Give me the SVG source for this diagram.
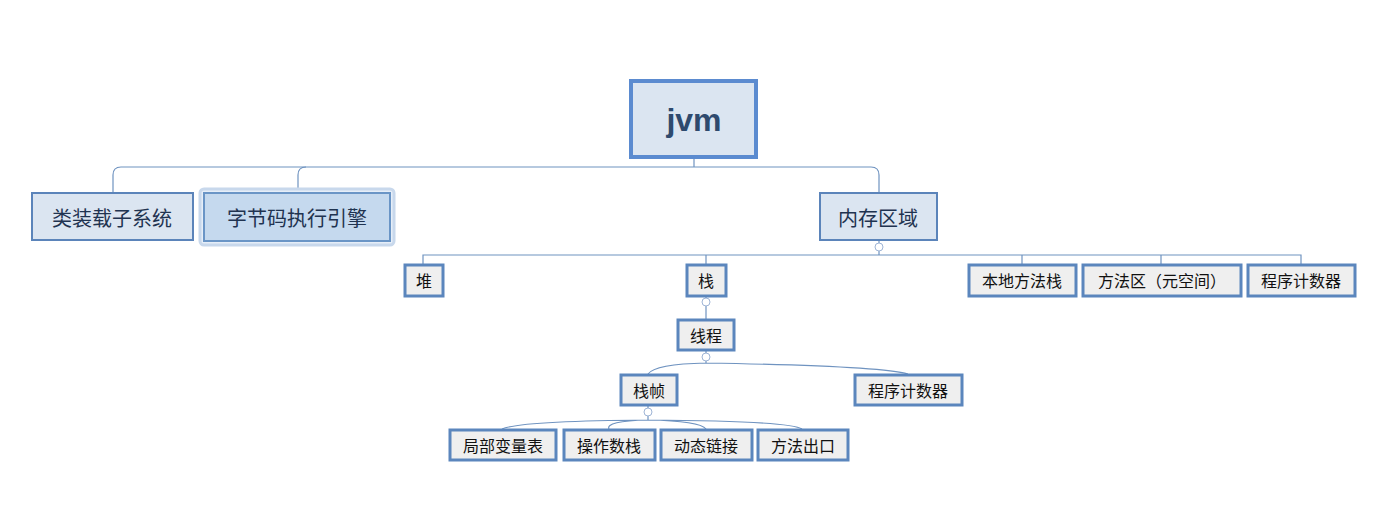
<svg xmlns="http://www.w3.org/2000/svg" width="1376" height="526" viewBox="0 0 1376 526">
<style>
text{font-family:"Noto Sans CJK SC","Liberation Sans",sans-serif;text-anchor:middle;dominant-baseline:central}
.l1 rect{fill:#dbe5f1;stroke:#5b84ba;stroke-width:2}
.l1 text{font-size:20px;fill:#1f3350}
.s rect{fill:#efefef;stroke:#5b86bd;stroke-width:3}
.s text{font-size:16px;fill:#111}
#c path,#c line{fill:none;stroke:#6f93c0;stroke-width:1.2}
#c circle{fill:#fff;stroke:#9fb5d6;stroke-width:1}
</style>
<rect width="1376" height="526" fill="#fff"/>
<g id="c">
<line x1="694" y1="158" x2="694" y2="167"/>
<path d="M113 192 V175 Q113 167 121 167 H871 Q879 167 879 175 V192"/>
<path d="M298 192 V175 Q298 167 306 167"/>
<line x1="879" y1="240" x2="879" y2="255"/>
<path d="M423 264 V255 H1301 V264"/>
<line x1="706" y1="255" x2="706" y2="264"/>
<line x1="1022" y1="255" x2="1022" y2="264"/>
<line x1="1161" y1="255" x2="1161" y2="264"/>
<line x1="706" y1="296" x2="706" y2="319"/>
<path d="M706 350 V363 M706 363 Q655 364 648 374 M706 363 Q880 366 908 374"/>
<path d="M648 405 V420 M648 420 Q520 421 502 429 M648 420 Q605 421 609 429 M648 420 Q700 421 706 429 M648 420 Q790 421 802 429"/>
<circle cx="879" cy="247" r="4"/>
<circle cx="706" cy="302" r="4"/>
<circle cx="706" cy="357" r="4"/>
<circle cx="648" cy="412" r="4"/>
</g>
<g id="jvm"><rect x="631" y="81" width="125" height="76" fill="#dbe5f1" stroke="#5b8bd0" stroke-width="4"/><text x="694" y="120" style="font-family:'Liberation Sans',sans-serif;font-size:32px;font-weight:bold;fill:#2e4a6e">jvm</text></g>
<g id="n1" class="l1"><rect x="32" y="193" width="161" height="47"/><text x="112" y="217">类装载子系统</text></g>
<g id="n2" class="l1"><rect x="200" y="189" width="194" height="56" fill="none" style="fill:#e6eef8;stroke:#c8d8ec;stroke-width:3" rx="4"/><rect x="204" y="193" width="186" height="48" style="fill:#c5d9ee;stroke:#6a95c6"/><text x="297" y="217">字节码执行引擎</text></g>
<g id="n3" class="l1"><rect x="820" y="193" width="117" height="47"/><text x="878" y="217">内存区域</text></g>
<g id="heap" class="s"><rect x="405" y="265" width="38" height="31"/><text x="424" y="280">堆</text></g>
<g id="stack" class="s"><rect x="687" y="265" width="39" height="31"/><text x="706" y="280">栈</text></g>
<g id="native" class="s"><rect x="969" y="265" width="107" height="31"/><text x="1022" y="280">本地方法栈</text></g>
<g id="method" class="s"><rect x="1083" y="265" width="158" height="31"/><text x="1162" y="280">方法区（元空间）</text></g>
<g id="pc1" class="s"><rect x="1248" y="265" width="107" height="31"/><text x="1301" y="280">程序计数器</text></g>
<g id="thread" class="s"><rect x="678" y="320" width="56" height="30"/><text x="706" y="335">线程</text></g>
<g id="frame" class="s"><rect x="621" y="375" width="56" height="30"/><text x="649" y="390">栈帧</text></g>
<g id="pc2" class="s"><rect x="855" y="375" width="107" height="30"/><text x="908" y="390">程序计数器</text></g>
<g id="b1" class="s"><rect x="450" y="430" width="106" height="30"/><text x="503" y="445">局部变量表</text></g>
<g id="b2" class="s"><rect x="564" y="430" width="91" height="30"/><text x="609" y="445">操作数栈</text></g>
<g id="b3" class="s"><rect x="661" y="430" width="91" height="30"/><text x="706" y="445">动态链接</text></g>
<g id="b4" class="s"><rect x="758" y="430" width="90" height="30"/><text x="803" y="445">方法出口</text></g>
</svg>
